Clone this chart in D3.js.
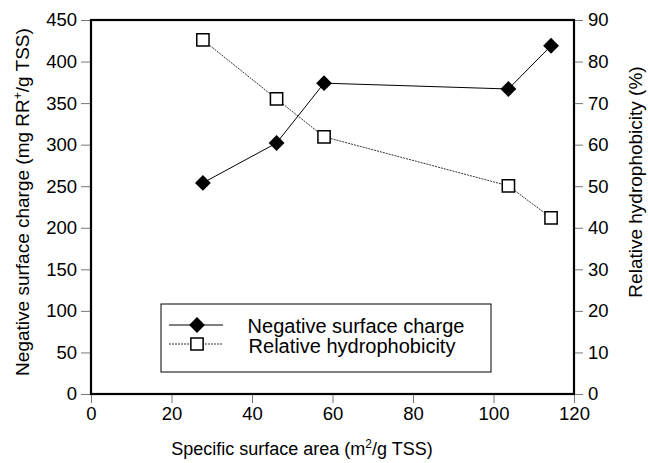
<!DOCTYPE html>
<html>
<head>
<meta charset="utf-8">
<script src="https://cdn.jsdelivr.net/npm/d3@7"></script>
<style>
  body { margin: 0; background: #fff; }
  svg { font-family: "Liberation Sans", Arial, sans-serif; }
</style>
</head>
<body>
<div id="chart"></div>
<script>
const MARGIN = { TOP: 20, BOTTOM: 69, LEFT: 91, RIGHT: 74 }
const WIDTH = 648 - MARGIN.LEFT - MARGIN.RIGHT
const HEIGHT = 463 - MARGIN.TOP - MARGIN.BOTTOM

// data
const surfaceArea = [27.8, 46.1, 57.9, 103.7, 114.3]
const surfaceCharge = [254, 302, 374, 367, 419]
const hydrophobicity = [85.2, 71.0, 61.9, 50.1, 42.4]

const xTicks = [0, 20, 40, 60, 80, 100, 120]
const yLeftTicks = [0, 50, 100, 150, 200, 250, 300, 350, 400, 450]
const yRightTicks = [0, 10, 20, 30, 40, 50, 60, 70, 80, 90]

const svgRoot = d3.select("#chart")
  .append("svg")
  .attr("width", 648)
  .attr("height", 463)
const svg = svgRoot.append("g")
  .attr("transform", `translate(${MARGIN.LEFT}, ${MARGIN.TOP})`)

const x = d3.scaleLinear().domain([0, 120]).range([0, WIDTH])
const yL = d3.scaleLinear().domain([0, 450]).range([HEIGHT, 0])
const yR = d3.scaleLinear().domain([0, 90]).range([HEIGHT, 0])

function styleAxis(g) {
  g.select(".domain").remove()
  g.selectAll(".tick line").attr("stroke", "#777").attr("stroke-width", 1)
  g.selectAll(".tick text").attr("fill", "#000").style("font-size", "18.5px")
}

svg.append("g")
   .attr("transform", `translate(0, ${HEIGHT})`)
   .call(d3.axisBottom(x).tickValues(xTicks).tickSize(9).tickPadding(4))
   .call(styleAxis)

svg.append("g")
   .call(d3.axisLeft(yL).tickValues(yLeftTicks).tickSize(10).tickPadding(4))
   .call(styleAxis)

svg.append("g")
   .attr("transform", `translate(${WIDTH}, 0)`)
   .call(d3.axisRight(yR).tickValues(yRightTicks).tickSize(9).tickPadding(5))
   .call(styleAxis)

// frame
svg.append("rect")
   .attr("x", 0).attr("y", 0)
   .attr("width", WIDTH).attr("height", HEIGHT)
   .attr("fill", "none")
   .attr("stroke", "#000")
   .attr("stroke-width", 2.2)

// axis titles
const xTitle = svg.append("text")
   .attr("x", 211)
   .attr("y", HEIGHT + 61)
   .attr("text-anchor", "middle")
   .style("font-size", "18px")
xTitle.append("tspan").text("Specific surface area (m")
xTitle.append("tspan").text("2").style("font-size", "12px").attr("dy", -7)
xTitle.append("tspan").text("/g TSS)").attr("dy", 7)

const yTitle = svg.append("text")
   .attr("transform", `translate(-62, ${HEIGHT / 2 - 5}) rotate(-90)`)
   .attr("text-anchor", "middle")
   .style("font-size", "19px")
yTitle.append("tspan").text("Negative surface charge (mg RR")
yTitle.append("tspan").text("+").style("font-size", "12px").attr("dy", -7)
yTitle.append("tspan").text("/g TSS)").attr("dy", 7)

svg.append("text")
   .attr("transform", `translate(${WIDTH + 68}, 162) rotate(-90)`)
   .attr("text-anchor", "middle")
   .style("font-size", "19px")
   .text("Relative hydrophobicity (%)")

// lines
const chargePts = surfaceArea.map((a, i) => ({ a, v: surfaceCharge[i] }))
const hydroPts = surfaceArea.map((a, i) => ({ a, v: hydrophobicity[i] }))

svg.append("path")
   .datum(hydroPts)
   .attr("fill", "none")
   .attr("stroke", "#333")
   .attr("stroke-width", 1)
   .attr("stroke-dasharray", "2,1")
   .attr("d", d3.line().x(d => x(d.a)).y(d => yR(d.v)))

svg.append("path")
   .datum(chargePts)
   .attr("fill", "none")
   .attr("stroke", "#000")
   .attr("stroke-width", 1)
   .attr("d", d3.line().x(d => x(d.a)).y(d => yL(d.v)))

const diamond = d3.symbol().type(d3.symbolSquare).size(125)
const square = d3.symbol().type(d3.symbolSquare).size(150)

svg.selectAll(".sq")
   .data(hydroPts)
   .join("path")
   .attr("class", "sq")
   .attr("d", square)
   .attr("transform", d => `translate(${x(d.a)}, ${yR(d.v)})`)
   .attr("fill", "#fff")
   .attr("stroke", "#000")
   .attr("stroke-width", 1.5)

svg.selectAll(".dm")
   .data(chargePts)
   .join("path")
   .attr("class", "dm")
   .attr("d", diamond)
   .attr("transform", d => `translate(${x(d.a)}, ${yL(d.v)}) rotate(45)`)
   .attr("fill", "#000")

// legend
const legend = svgRoot.append("g")
legend.append("rect")
   .attr("x", 161).attr("y", 304)
   .attr("width", 330).attr("height", 68)
   .attr("fill", "#fff")
   .attr("stroke", "#000")
   .attr("stroke-width", 1)

legend.append("line")
   .attr("x1", 169).attr("x2", 223).attr("y1", 325).attr("y2", 325)
   .attr("stroke", "#000")
legend.append("path")
   .attr("d", diamond)
   .attr("transform", "translate(197, 325) rotate(45)")
   .attr("fill", "#000")
legend.append("text")
   .attr("x", 356).attr("y", 333)
   .attr("text-anchor", "middle")
   .style("font-size", "20px")
   .text("Negative surface charge")

legend.append("line")
   .attr("x1", 169).attr("x2", 223).attr("y1", 344).attr("y2", 344)
   .attr("stroke", "#333")
   .attr("stroke-dasharray", "2,1")
legend.append("path")
   .attr("d", square)
   .attr("transform", "translate(197, 344)")
   .attr("fill", "#fff")
   .attr("stroke", "#000")
   .attr("stroke-width", 1.5)
legend.append("text")
   .attr("x", 352).attr("y", 353)
   .attr("text-anchor", "middle")
   .style("font-size", "20px")
   .text("Relative hydrophobicity")
</script>
</body>
</html>
